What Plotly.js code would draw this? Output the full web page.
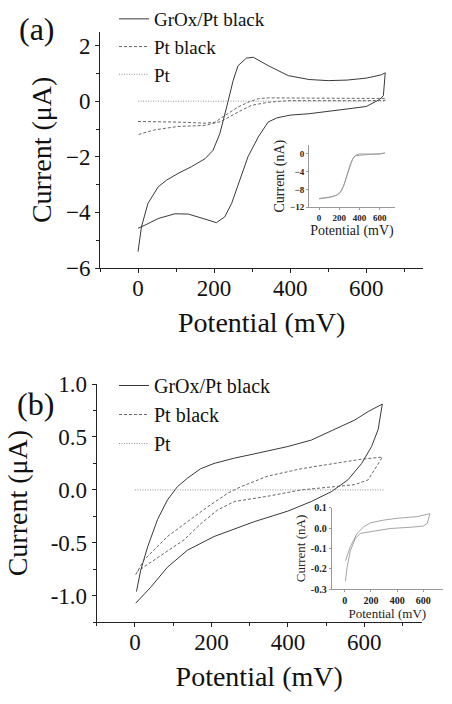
<!DOCTYPE html>
<html>
<head>
<meta charset="utf-8">
<script src="https://cdn.plot.ly/plotly-3.0.1.min.js"></script>
<style>html,body{margin:0;padding:0;background:#fff;}#chart{width:452px;height:704px;}</style>
</head>
<body>
<div id="chart"></div>
<script>
// ---------- Panel (a) data: potential (mV), current (uA) ----------
const aGrOxPot = [0, 9, 26, 53, 75, 105, 140, 176, 197, 215, 233, 250, 263, 285, 303, 342, 395, 450, 500, 550, 600, 640, 650,
                  648, 645, 635, 625, 600, 555, 500, 450, 400, 365, 342, 316, 289, 268, 246, 228, 206, 176, 132, 97, 53, 18, 0];
const aGrOxCur = [-5.41, -4.52, -3.68, -3.08, -2.84, -2.6, -2.36, -2.07, -1.77, -1.17, -0.21, 0.74, 1.28, 1.55, 1.58, 1.28, 0.92, 0.78, 0.74, 0.76, 0.83, 0.95, 1.02,
                  0.5, 0.2, 0.06, -0.02, -0.19, -0.27, -0.37, -0.45, -0.5, -0.6, -0.75, -1.29, -2.0, -2.84, -3.68, -4.16, -4.37, -4.24, -4.06, -4.05, -4.22, -4.46, -4.57];
const aPtBlackPot = [0, 44, 105, 176, 202, 219, 237, 263, 289, 316, 342, 400, 500, 600, 650,
                     650, 600, 500, 395, 342, 298, 263, 237, 218, 176, 105, 44, 0];
const aPtBlackCur = [-0.73, -0.73, -0.75, -0.79, -0.76, -0.6, -0.45, -0.21, -0.04, 0.09, 0.12, 0.11, 0.1, 0.1, 0.1,
                     0.03, 0.02, 0.02, 0.02, -0.04, -0.15, -0.39, -0.6, -0.73, -0.87, -0.91, -1.03, -1.2];
const aPtPot = [0, 100, 200, 300, 400, 500, 600, 650];
const aPtCur = [0, 0, 0, 0, 0, 0, 0, 0];
// inset (a): current (nA)
const aInsetPot = [0, 100, 170, 210, 240, 270, 300, 330, 360, 400, 450, 500, 600, 650,
                   650, 600, 500, 450, 400, 370, 340, 310, 280, 250, 220, 190, 150, 100, 0];
const aInsetCur = [-10, -9.7, -9.3, -8.6, -7.3, -5.3, -3, -1.2, -0.4, -0.3, -0.2, -0.1, 0, 0.2,
                   0.1, 0, -0.05, 0, 0, -0.2, -0.8, -2.2, -4.5, -6.7, -8.3, -9.1, -9.5, -9.8, -10.1];

// ---------- Panel (b) data ----------
const bGrOxPot = [4, 15, 33, 59, 85, 111, 137, 172, 207, 260, 312, 400, 461, 522, 575, 610, 647,
                  636, 619, 593, 557, 514, 461, 400, 312, 207, 137, 85, 41, 2];
const bGrOxCur = [-0.96, -0.76, -0.54, -0.28, -0.095, 0.03, 0.11, 0.2, 0.25, 0.3, 0.34, 0.41, 0.47, 0.57, 0.66, 0.74, 0.81,
                  0.57, 0.41, 0.25, 0.095, -0.016, -0.11, -0.2, -0.3, -0.44, -0.57, -0.73, -0.92, -1.07];
const bPtBlackPot = [2, 24, 85, 137, 190, 243, 277, 347, 435, 522, 593, 647,
                     640, 627, 610, 575, 522, 435, 347, 260, 216, 172, 129, 85, 41, 6];
const bPtBlackCur = [-0.8, -0.66, -0.44, -0.3, -0.16, -0.03, 0.03, 0.13, 0.2, 0.25, 0.29, 0.31,
                     0.27, 0.19, 0.095, 0.05, 0.03, 0.0, -0.06, -0.11, -0.19, -0.32, -0.47, -0.58, -0.69, -0.77];
const bPtPot = [0, 100, 200, 300, 400, 500, 600, 650];
const bPtCur = [0, 0, 0, 0, 0, 0, 0, 0];
const bInsetPot = [5, 18, 43, 81, 119, 195, 347, 500, 600, 630, 645, 650,
                   638, 550, 398, 296, 195, 144, 94, 43, 5];
const bInsetCur = [-0.26, -0.19, -0.11, -0.05, -0.026, -0.018, -0.002, 0.004, 0.01, 0.023, 0.05, 0.07,
                   0.069, 0.056, 0.048, 0.039, 0.026, 0.006, -0.026, -0.09, -0.16];

const seriesNames = ['GrOx/Pt black', 'Pt black', 'Pt'];
const panelLabels = ['(a)', '(b)'];
const mainXTicks = [0, 200, 400, 600];
const aYTicks = [-6, -4, -2, 0, 2];
const bYTicks = [-1.0, -0.5, 0.0, 0.5, 1.0];
const bYTickText = ['-1.0', '-0.5', '0.0', '0.5', '1.0'];
const aInsetYTicks = [-12, -8, -4, 0];
const bInsetYTicks = [-0.3, -0.2, -0.1, 0.0, 0.1];
const bInsetYTickText = ['-0.3', '-0.2', '-0.1', '0.0', '0.1'];

const FONT = 'Liberation Serif';
const W = 452, H = 704;
const dx = (a, b) => [a / W, b / W];
const dy = (top, bottom) => [1 - bottom / H, 1 - top / H];

const solid = {color: '#222', width: 0.9, dash: 'solid'};
const dashed = {color: '#555', width: 0.9, dash: '3px,2px'};
const dotted = {color: '#888', width: 0.9, dash: '1px,1.5px'};
const insetLine = {color: '#999', width: 0.9};

const traces = [
  {x: aGrOxPot, y: aGrOxCur, xaxis: 'x', yaxis: 'y', name: seriesNames[0], mode: 'lines', line: solid, legend: 'legend'},
  {x: aPtBlackPot, y: aPtBlackCur, xaxis: 'x', yaxis: 'y', name: seriesNames[1], mode: 'lines', line: dashed, legend: 'legend'},
  {x: aPtPot, y: aPtCur, xaxis: 'x', yaxis: 'y', name: seriesNames[2], mode: 'lines', line: dotted, legend: 'legend'},
  {x: aInsetPot, y: aInsetCur, xaxis: 'x2', yaxis: 'y2', mode: 'lines', line: insetLine, showlegend: false},
  {x: bGrOxPot, y: bGrOxCur, xaxis: 'x3', yaxis: 'y3', name: seriesNames[0], mode: 'lines', line: solid, legend: 'legend2'},
  {x: bPtBlackPot, y: bPtBlackCur, xaxis: 'x3', yaxis: 'y3', name: seriesNames[1], mode: 'lines', line: dashed, legend: 'legend2'},
  {x: bPtPot, y: bPtCur, xaxis: 'x3', yaxis: 'y3', name: seriesNames[2], mode: 'lines', line: dotted, legend: 'legend2'},
  {x: bInsetPot, y: bInsetCur, xaxis: 'x4', yaxis: 'y4', mode: 'lines', line: insetLine, showlegend: false}
];

function mainX(domain, anchor) {
  return {
    domain: domain, anchor: anchor, range: [-100, 750], tickvals: mainXTicks,
    showline: true, linecolor: '#222', linewidth: 1, ticks: 'outside', ticklen: 4, tickcolor: '#222',
    ticklabelstandoff: -5,
    minor: {tickvals: [-100, 100, 300, 500, 700], ticks: 'outside', ticklen: 3, tickcolor: '#222'},
    showgrid: false, zeroline: false, tickfont: {family: FONT, size: 23, color: '#111'},
    title: {text: 'Potential (mV)', font: {family: FONT, size: 28, color: '#111'}, standoff: 12}
  };
}
function mainY(domain, anchor, range, vals, text, minorVals, standoff) {
  return {
    domain: domain, anchor: anchor, range: range, tickvals: vals, ticktext: text,
    showline: true, linecolor: '#222', linewidth: 1, ticks: 'outside', ticklen: 4, tickcolor: '#222',
    minor: {tickvals: minorVals, ticks: 'outside', ticklen: 3, tickcolor: '#222'},
    showgrid: false, zeroline: false, tickfont: {family: FONT, size: 23, color: '#111'},
    title: {text: 'Current (μA)', font: {family: FONT, size: 28, color: '#111'}, standoff: standoff}
  };
}
function insetX(domain, anchor, fs, tfs) {
  return {
    domain: domain, anchor: anchor, range: [-100, 750], tickvals: mainXTicks,
    showline: true, linecolor: '#999', linewidth: 1, ticks: 'outside', ticklen: 2, tickcolor: '#999',
    showgrid: false, zeroline: false, tickfont: {family: FONT, size: fs, color: '#222', weight: 'bold'},
    title: {text: 'Potential (mV)', font: {family: FONT, size: tfs, color: '#222'}, standoff: 2}
  };
}
function insetY(domain, anchor, range, vals, text, fs, tfs) {
  return {
    domain: domain, anchor: anchor, range: range, tickvals: vals, ticktext: text,
    showline: true, linecolor: '#999', linewidth: 1, ticks: 'outside', ticklen: 2, tickcolor: '#999',
    showgrid: false, zeroline: false, tickfont: {family: FONT, size: fs, color: '#222', weight: 'bold'},
    title: {text: 'Current (nA)', font: {family: FONT, size: tfs, color: '#222'}, standoff: 2}
  };
}

const layout = {
  width: W, height: H, margin: {l: 0, r: 0, t: 0, b: 0},
  paper_bgcolor: '#fff', plot_bgcolor: 'rgba(0,0,0,0)',
  font: {family: FONT, color: '#111'},
  xaxis: mainX(dx(100, 423.3), 'y'),
  yaxis: mainY(dy(31.7, 268), 'x', [-6, 2.5], aYTicks, null, [-5, -3, -1, 1], 6),
  xaxis2: insetX(dx(309, 395), 'y2', 9, 14),
  yaxis2: insetY(dy(145, 207.3), 'x2', [-12, 2], aInsetYTicks, null, 9, 14),
  xaxis3: mainX(dx(96.7, 421.7), 'y3'),
  yaxis3: mainY(dy(384, 622.3), 'x3', [-1.25, 1.0], bYTicks, bYTickText, [-1.25, -0.75, -0.25, 0.25, 0.75], 14),
  xaxis4: insetX(dx(331.7, 443), 'y4', 10, 13),
  yaxis4: insetY(dy(507.7, 589.3), 'x4', [-0.3, 0.1], bInsetYTicks, bInsetYTickText, 10, 13),
  legend: {x: 114 / W, y: 1, xanchor: 'left', yanchor: 'top', bgcolor: 'rgba(0,0,0,0)',
           font: {family: FONT, size: 19, color: '#111'}, tracegroupgap: 0, itemwidth: 30},
  legend2: {x: 114 / W, y: 1 - 366 / H, xanchor: 'left', yanchor: 'top', bgcolor: 'rgba(0,0,0,0)',
            font: {family: FONT, size: 20, color: '#111'}, tracegroupgap: 0, itemwidth: 30},
  annotations: [
    {text: panelLabels[0], x: 37 / W, y: 1 - 29 / H, xref: 'paper', yref: 'paper', showarrow: false,
     xanchor: 'center', yanchor: 'middle', font: {family: FONT, size: 32, color: '#111'}},
    {text: panelLabels[1], x: 35 / W, y: 1 - 404 / H, xref: 'paper', yref: 'paper', showarrow: false,
     xanchor: 'center', yanchor: 'middle', font: {family: FONT, size: 32, color: '#111'}}
  ],
  showlegend: true
};

Plotly.newPlot('chart', traces, layout, {staticPlot: true, displayModeBar: false});
</script>
</body>
</html>
